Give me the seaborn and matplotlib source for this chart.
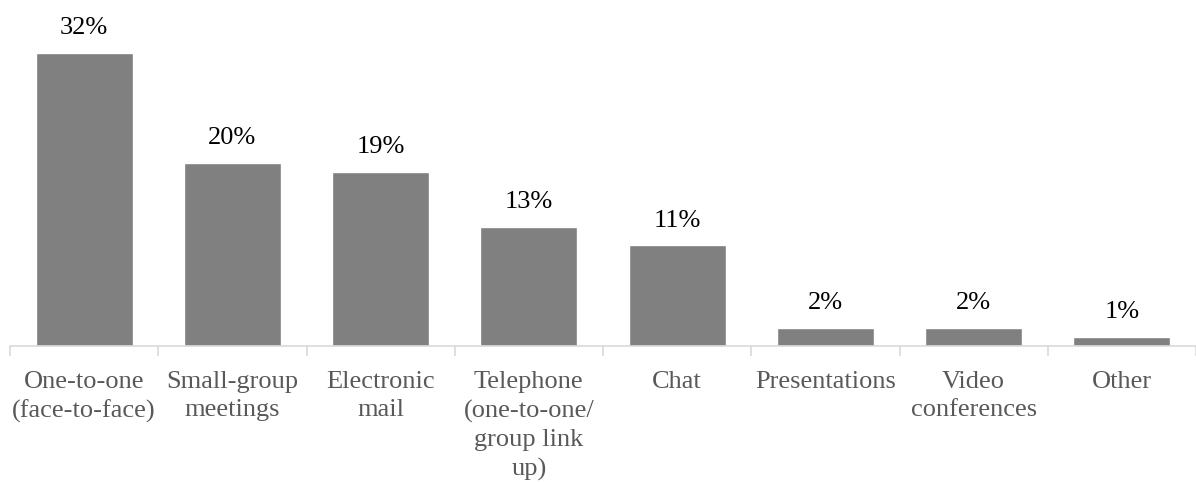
import matplotlib
matplotlib.use("Agg")
import matplotlib.pyplot as plt
import seaborn as sns
import pandas as pd
from matplotlib.ticker import FixedLocator

categories = [
    "One-to-one\n(face-to-face)",
    "Small-group\nmeetings",
    "Electronic\nmail",
    "Telephone\n(one-to-one/\ngroup link\nup)",
    "Chat",
    "Presentations",
    "Video\nconferences",
    "Other",
]
shares = [32, 20, 19, 13, 11, 2, 2, 1]
value_labels = ["32%", "20%", "19%", "13%", "11%", "2%", "2%", "1%"]

sns.set_theme(style="white")
plt.rcParams["font.family"] = ["Liberation Serif", "DejaVu Serif"]

df = pd.DataFrame({"channel": categories, "share": shares})

fig = plt.figure(figsize=(11.96, 4.84), dpi=100)
ax = fig.add_axes([10 / 1196, 1 - 346 / 484, 1 - 10 / 1196, 346 / 484])

sns.barplot(data=df, x="channel", y="share", color="#808080", saturation=1,
            width=0.655, ax=ax)

for i, (v, lab) in enumerate(zip(shares, value_labels)):
    ax.annotate(lab, (i, v), xytext=(0, 13.5), textcoords="offset points",
                ha="center", va="baseline", fontsize=19, color="black")

ax.set_xlim(-0.5, len(categories) - 0.5)
ax.set_ylim(0, 37.8)
ax.set_xlabel("")
ax.set_ylabel("")
ax.set_yticks([])

for side in ["top", "right", "left"]:
    ax.spines[side].set_visible(False)
ax.spines["bottom"].set_color("#d9d9d9")
ax.spines["bottom"].set_linewidth(1.2)

ax.xaxis.set_minor_locator(FixedLocator([i - 0.5 for i in range(len(categories) + 1)]))
ax.tick_params(axis="x", which="major", length=0, pad=18, labelsize=19,
               labelcolor="#595959")
ax.tick_params(axis="x", which="minor", length=7, width=1.2, color="#d9d9d9",
               bottom=True)
for t in ax.get_xticklabels():
    t.set_linespacing(1.38)

fig.savefig("out.png", dpi=100)
